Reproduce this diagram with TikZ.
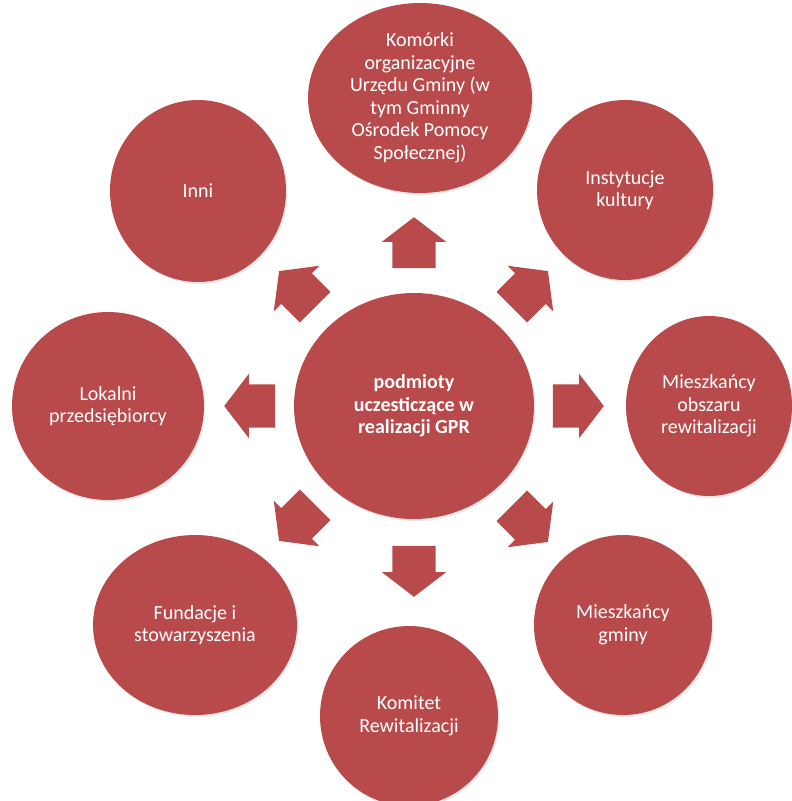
\documentclass[tikz,border=0pt]{standalone}
\usepackage{fontspec}
\setmainfont{Carlito}
\usetikzlibrary{positioning,shapes.geometric,shapes.arrows,shadows}

\definecolor{gprred}{RGB}{184,74,76}

\begin{document}
\begin{tikzpicture}[x=1pt,y=1pt,on grid,font=\fontsize{20}{22.5}\selectfont]
       \tikzstyle{every node}=[text=white,align=center,inner sep=0pt]
       \tikzstyle{party}=[ellipse,fill=gprred,drop shadow={opacity=0.18,shadow xshift=1.5pt,shadow yshift=-2pt}]
       \tikzstyle{outarrow}=[single arrow,fill=gprred,minimum height=51pt,minimum width=64pt,
              inner xsep=0pt,inner ysep=21.5pt,single arrow head extend=10.5pt,single arrow tip angle=105]

       \useasboundingbox (0,0) rectangle (792,-801);

       % centre
       \node[party,minimum width=240pt,minimum height=226pt,font=\fontsize{20}{22.5}\selectfont\bfseries]
              (hub) at (414,-406) {podmioty\\uczesticzące w\\realizacji GPR};

       % participants
       \node[party,minimum width=224pt,minimum height=190pt] (komorki) [above right=308pt and 6pt of hub]
              {Komórki\\organizacyjne\\Urzędu Gminy (w\\tym Gminny\\Ośrodek Pomocy\\Społecznej)};
       \node[party,minimum width=176pt,minimum height=182pt] (inni) [above left=215pt and 216pt of hub] {Inni};
       \node[party,minimum width=176pt,minimum height=180pt] (kultura) [above right=216pt and 211pt of hub] {Instytucje\\kultury};
       \node[party,minimum width=192pt,minimum height=188pt] (przedsiebiorcy) [left=306pt of hub] {Lokalni\\przedsiębiorcy};
       \node[party,minimum width=166pt,minimum height=180pt] (obszar) [right=295pt of hub] {Mieszkańcy\\obszaru\\rewitalizacji};
       \node[party,minimum width=204pt,minimum height=180pt] (fundacje) [below left=219pt and 219pt of hub] {Fundacje i\\stowarzyszenia};
       \node[party,minimum width=178pt,minimum height=180pt] (gmina) [below right=219pt and 209pt of hub] {Mieszkańcy\\gminy};
       \node[party,minimum width=178pt,minimum height=180pt] (komitet) [below left=310pt and 5pt of hub] {Komitet\\Rewitalizacji};

       % arrows from the centre
       \node[outarrow,rotate=90]  (to_komorki) [above=155pt of hub] {};
       \node[outarrow,rotate=135] (to_inni) [above left=111pt and 111pt of hub] {};
       \node[outarrow,rotate=45]  (to_kultura) [above right=111pt and 110pt of hub] {};
       \node[outarrow,rotate=180] (to_przedsiebiorcy) [left=156pt of hub] {};
       \node[outarrow]            (to_obszar) [right=156pt of hub] {};
       \node[outarrow,rotate=225] (to_fundacje) [below left=111pt and 111pt of hub] {};
       \node[outarrow,rotate=315] (to_gmina) [below right=112pt and 110pt of hub] {};
       \node[outarrow,rotate=270] (to_komitet) [below=157pt of hub] {};
\end{tikzpicture}
\end{document}
